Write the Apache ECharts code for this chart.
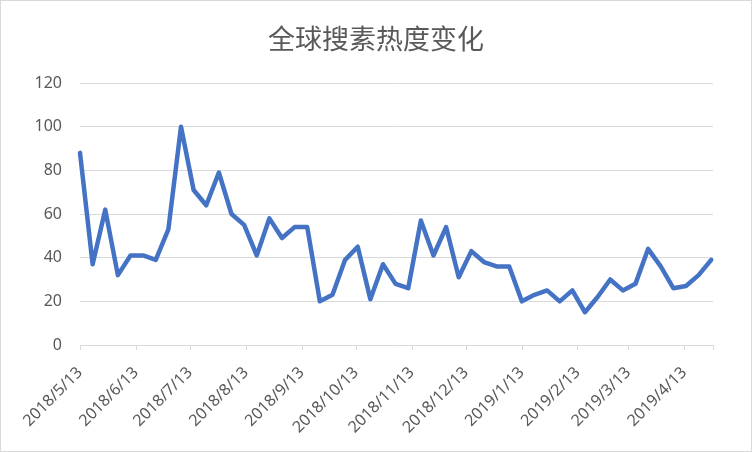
<!DOCTYPE html>
<html>
<head>
<meta charset="utf-8">
<script src="https://cdn.jsdelivr.net/npm/echarts@6/dist/echarts.min.js"></script>
<style>
  html, body { margin: 0; padding: 0; background: #fff; }
  #frame { position: absolute; left: 0; top: 0; width: 750px; height: 450px; border: 1px solid #d9d9d9; }
  #chart { width: 752px; height: 452px; position: absolute; left: 0; top: 0; }
</style>
</head>
<body>
<div id="frame"></div>
<div id="chart"></div>
<script>
const titleText = '全球搜素热度变化';

const dates = [
  '2018/5/13','2018/5/20','2018/5/27','2018/6/3','2018/6/10','2018/6/17','2018/6/24',
  '2018/7/1','2018/7/8','2018/7/15','2018/7/22','2018/7/29','2018/8/5','2018/8/12',
  '2018/8/19','2018/8/26','2018/9/2','2018/9/9','2018/9/16','2018/9/23','2018/9/30',
  '2018/10/7','2018/10/14','2018/10/21','2018/10/28','2018/11/4','2018/11/11','2018/11/18',
  '2018/11/25','2018/12/2','2018/12/9','2018/12/16','2018/12/23','2018/12/30',
  '2019/1/6','2019/1/13','2019/1/20','2019/1/27','2019/2/3','2019/2/10','2019/2/17',
  '2019/2/24','2019/3/3','2019/3/10','2019/3/17','2019/3/24','2019/3/31','2019/4/7',
  '2019/4/14','2019/4/21','2019/4/28'
];

const values = [
  88, 37, 62, 32, 41, 41, 39, 53, 100, 71,
  64, 79, 60, 55, 41, 58, 49, 54, 54, 20,
  23, 39, 45, 21, 37, 28, 26, 57, 41, 54,
  31, 43, 38, 36, 36, 20, 23, 25, 20, 25,
  15, 22, 30, 25, 28, 44, 36, 26, 27, 32,
  39
];

const tickLabels = [
  '2018/5/13','2018/6/13','2018/7/13','2018/8/13','2018/9/13','2018/10/13',
  '2018/11/13','2018/12/13','2019/1/13','2019/2/13','2019/3/13','2019/4/13'
];

const axisStart = '2018/5/13';
const axisEnd = '2019/4/29';

const DAY = 86400000;
function dayNum(s) {
  const p = s.split('/').map(Number);
  return Math.round(Date.UTC(p[0], p[1] - 1, p[2]) / DAY);
}
const labelMap = {};
tickLabels.forEach(s => { labelMap[dayNum(s)] = s; });

const seriesData = dates.map((d, i) => [dayNum(d), values[i]]);

const chart = echarts.init(document.getElementById('chart'), null, { renderer: 'canvas' });
chart.setOption({
  backgroundColor: 'transparent',
  animation: false,
  title: {
    text: titleText,
    left: 'center',
    top: 20,
    textStyle: {
      fontFamily: '"Noto Sans CJK SC", "Noto Sans", sans-serif',
      fontSize: 27,
      fontWeight: 'normal',
      color: '#595959'
    }
  },
  grid: {
    left: 80, right: 39, top: 83, bottom: 107,
    containLabel: false,
    outerBoundsMode: 'none'
  },
  xAxis: {
    type: 'value',
    min: dayNum(axisStart),
    max: dayNum(axisEnd),
    splitLine: { show: false },
    axisLine: { show: true, lineStyle: { color: '#d9d9d9', width: 1 } },
    axisTick: {
      show: true,
      length: 5,
      lineStyle: { color: '#d9d9d9', width: 1 },
      customValues: tickLabels.map(dayNum).concat([dayNum(axisEnd)])
    },
    axisLabel: {
      show: true,
      rotate: 45,
      margin: 25,
      fontFamily: '"Noto Sans", sans-serif',
      fontSize: 16,
      color: '#595959',
      customValues: tickLabels.map(dayNum),
      formatter: v => labelMap[v] || ''
    }
  },
  yAxis: {
    type: 'value',
    min: 0,
    max: 120,
    interval: 20,
    axisLine: { show: false },
    axisTick: { show: false },
    splitLine: { show: true, lineStyle: { color: '#d9d9d9', width: 1 } },
    axisLabel: {
      margin: 18,
      fontFamily: '"Noto Sans", sans-serif',
      fontSize: 16,
      color: '#595959'
    }
  },
  series: [{
    type: 'line',
    data: seriesData,
    showSymbol: false,
    symbol: 'none',
    lineStyle: { color: '#4472C4', width: 4.5, join: 'round', cap: 'round' },
    itemStyle: { color: '#4472C4' }
  }]
});
</script>
</body>
</html>
